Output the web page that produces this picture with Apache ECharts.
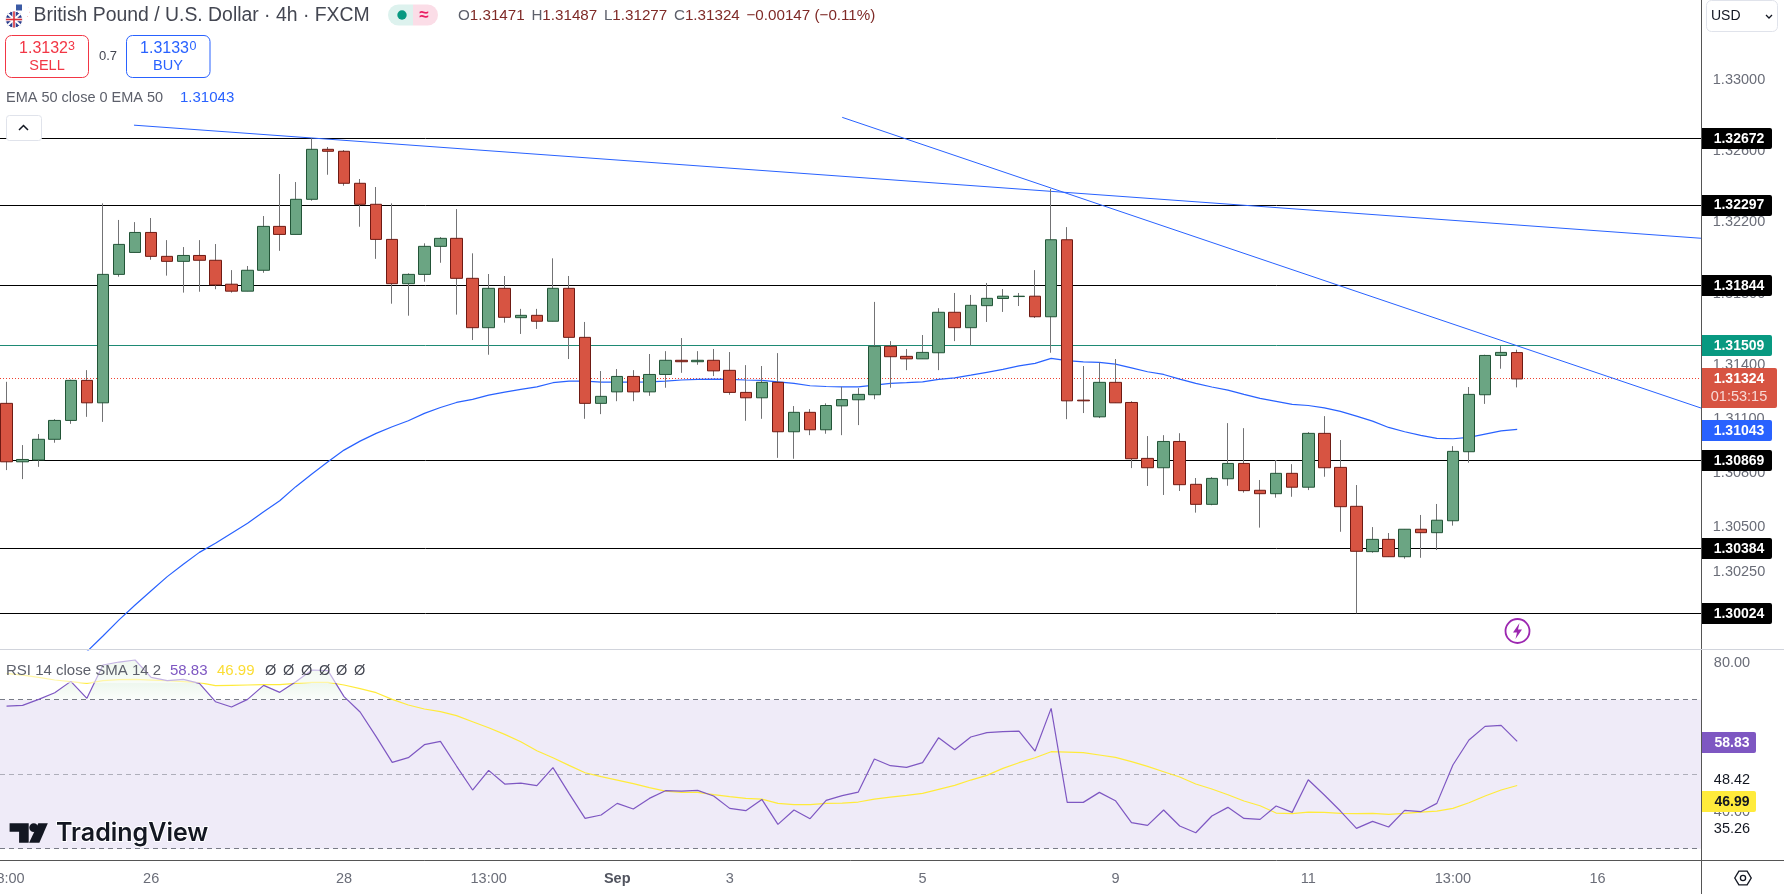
<!DOCTYPE html>
<html><head><meta charset="utf-8">
<style>html,body{margin:0;padding:0;background:#fff;overflow:hidden}#c{width:1784px;height:894px}</style>
<script src="https://cdn.jsdelivr.net/npm/echarts@6/dist/echarts.min.js"></script>
</head><body><div id="c"></div>
<script>
const candleOpen=[
1.31188,1.30863,1.30873,1.30988,1.31093,1.31316,1.31191,1.31908,1.32031,1.32143,
1.32009,1.31981,1.32014,1.31987,1.31853,1.31814,1.31931,1.32177,1.32132,1.32329,
1.32610,1.32599,1.32419,1.32301,1.32104,1.31856,1.31908,1.32065,1.32110,1.31886,
1.31610,1.31830,1.31666,1.31679,1.31646,1.31830,1.31556,1.31188,1.31252,1.31338,
1.31252,1.31349,1.31428,1.31420,1.31428,1.31372,1.31249,1.31219,1.31305,1.31030,
1.31138,1.31041,1.31174,1.31208,1.31236,1.31506,1.31450,1.31436,1.31470,1.31696,
1.31610,1.31733,1.31773,1.31784,1.31786,1.31671,1.32102,1.31206,1.31113,1.31305,
1.31193,1.30882,1.30830,1.30976,1.30738,1.30627,1.30769,1.30854,1.30705,1.30686,
1.30799,1.30722,1.31021,1.30832,1.30616,1.30365,1.30433,1.30337,1.30489,1.30470,
1.30536,1.30919,1.31236,1.31455,1.31471];
const candleClose=[
1.30863,1.30876,1.30988,1.31093,1.31316,1.31191,1.31908,1.32076,1.32143,1.32009,
1.31981,1.32014,1.31987,1.31849,1.31814,1.31931,1.32177,1.32132,1.32329,1.32610,
1.32599,1.32419,1.32301,1.32104,1.31856,1.31908,1.32065,1.32110,1.31886,1.31610,
1.31830,1.31668,1.31679,1.31646,1.31830,1.31556,1.31188,1.31227,1.31338,1.31252,
1.31349,1.31428,1.31420,1.31428,1.31369,1.31249,1.31219,1.31305,1.31030,1.31138,
1.31041,1.31176,1.31209,1.31238,1.31506,1.31448,1.31436,1.31472,1.31696,1.31610,
1.31735,1.31774,1.31786,1.31786,1.31671,1.32102,1.31202,1.31202,1.31305,1.31191,
1.30880,1.30830,1.30976,1.30736,1.30627,1.30771,1.30854,1.30703,1.30686,1.30799,
1.30722,1.31021,1.30830,1.30614,1.30367,1.30433,1.30337,1.30489,1.30470,1.30539,
1.30921,1.31238,1.31455,1.31472,1.31324];
const candleLow=[
1.30817,1.30767,1.30835,1.30969,1.31074,1.31113,1.31085,1.31895,1.32031,1.31990,
1.31901,1.31806,1.31811,1.31825,1.31806,1.31814,1.31917,1.32040,1.32132,1.32321,
1.32467,1.32405,1.32175,1.31995,1.31744,1.31677,1.31867,1.31973,1.31683,1.31541,
1.31459,1.31638,1.31575,1.31603,1.31646,1.31435,1.31102,1.31128,1.31200,1.31200,
1.31230,1.31275,1.31358,1.31403,1.31340,1.31236,1.31091,1.31102,1.30885,1.30880,
1.31011,1.31019,1.31011,1.31067,1.31211,1.31275,1.31373,1.31436,1.31373,1.31535,
1.31511,1.31642,1.31698,1.31731,1.31664,1.31470,1.31100,1.31134,1.31106,1.31191,
1.30828,1.30729,1.30679,1.30701,1.30581,1.30622,1.30730,1.30692,1.30498,1.30664,
1.30669,1.30706,1.30780,1.30475,1.30024,1.30359,1.30337,1.30326,1.30331,1.30374,
1.30509,1.30858,1.31185,1.31381,1.31277];
const candleHigh=[
1.31308,1.30956,1.31017,1.31100,1.31320,1.31373,1.32306,1.32213,1.32201,1.32224,
1.32100,1.32061,1.32100,1.32078,1.31932,1.31955,1.32235,1.32471,1.32426,1.32672,
1.32623,1.32606,1.32443,1.32398,1.32306,1.31914,1.32082,1.32117,1.32274,1.32026,
1.31910,1.31899,1.31715,1.31715,1.31998,1.31899,1.31642,1.31368,1.31379,1.31373,
1.31463,1.31479,1.31552,1.31479,1.31491,1.31474,1.31401,1.31396,1.31468,1.31173,
1.31156,1.31188,1.31280,1.31273,1.31754,1.31535,1.31491,1.31569,1.31719,1.31804,
1.31793,1.31860,1.31826,1.31804,1.31932,1.32387,1.32173,1.31396,1.31416,1.31435,
1.31200,1.31006,1.31011,1.31022,1.30773,1.30778,1.31078,1.31050,1.30762,1.30873,
1.30850,1.31028,1.31117,1.30984,1.30734,1.30501,1.30468,1.30489,1.30568,1.30629,
1.30950,1.31279,1.31459,1.31507,1.31487];
const ema50=[
null,null,null,null,null,1.29813,1.29899,1.29988,1.30070,1.30149,
1.30227,1.30295,1.30361,1.30411,1.30467,1.30522,1.30586,1.30647,1.30725,1.30795,
1.30863,1.30928,1.30978,1.31021,1.31058,1.31091,1.31132,1.31165,1.31193,1.31210,
1.31234,1.31251,1.31266,1.31280,1.31303,1.31312,1.31312,1.31306,1.31306,1.31306,
1.31308,1.31312,1.31318,1.31322,1.31323,1.31322,1.31318,1.31316,1.31308,1.31299,
1.31286,1.31282,1.31280,1.31280,1.31290,1.31299,1.31303,1.31308,1.31322,1.31330,
1.31345,1.31361,1.31377,1.31397,1.31411,1.31439,1.31426,1.31419,1.31416,1.31407,
1.31386,1.31364,1.31349,1.31323,1.31299,1.31279,1.31262,1.31238,1.31216,1.31199,
1.31182,1.31176,1.31163,1.31143,1.31117,1.31089,1.31054,1.31030,1.31010,1.30993,
1.30991,1.30999,1.31017,1.31035,1.31043];
const rsi14=[
68.33,68.51,70.12,71.91,74.95,70.39,79.34,80.14,80.68,76.03,
75.13,75.49,74.42,69.49,68.06,70.12,73.88,72.0,74.86,78.0,
77.82,70.84,66.72,60.10,53.21,54.46,57.95,58.85,52.22,45.78,
51.06,47.39,47.66,46.94,51.78,44.89,38.17,39.07,42.2,40.68,
43.54,45.6,45.51,45.69,44.17,40.86,40.23,43.27,36.56,40.41,
38.08,43.0,44.26,45.24,54.1,52.31,51.86,53.12,59.83,56.61,
60.01,61.17,61.44,61.62,56.25,67.7,42.47,42.47,45.15,42.92,
37.01,36.29,40.41,36.12,34.32,38.8,41.13,38.17,37.9,41.48,
39.78,48.55,44.44,40.14,35.49,37.37,35.85,40.32,39.96,42.2,
52.49,59.2,62.87,63.14,58.83];
const rsiSma=[
77.1,76.65,76.03,75.31,74.86,74.42,75.13,75.4,75.49,75.31,
75.13,74.86,74.6,73.79,73.88,73.97,74.06,74.06,74.42,74.68,
74.68,73.97,72.98,71.91,70.12,68.6,67.53,66.81,65.74,64.12,
62.51,60.72,58.76,56.34,54.46,52.4,50.43,49.36,48.46,47.48,
46.41,45.51,45.15,45.15,44.53,44.0,43.54,43.36,42.2,41.84,
41.84,42.2,42.29,42.56,43.36,43.9,44.35,44.89,45.96,47.03,
48.46,49.72,51.6,53.12,54.46,56.07,55.98,55.8,55.18,54.55,
53.39,52.13,50.7,49.27,47.39,46.05,44.53,42.83,41.57,39.6,
39.43,39.87,39.78,39.51,39.43,39.51,39.25,39.51,39.87,40.14,
40.86,42.38,44.17,45.78,46.99];
const xTickIndex=[0,9,21,30,38,45,57,69,81,90,99];
const xTickLabels=['18:00','26','28','13:00','Sep','3','5','9','11','13:00','16'];
const priceTicks=[1.33,1.326,1.322,1.318,1.314,1.311,1.308,1.305,1.3025];
const priceTickLabels=['1.33000','1.32600','1.32200','1.31800','1.31400','1.31100','1.30800','1.30500','1.30250'];
const rsiTicks=[80,40];
const rsiTickLabels=['80.00','40.00'];
const rsiMarks=[48.42,35.26];
const rsiMarkLabels=['48.42','35.26'];
const levelValues=[1.32672,1.32297,1.31844,1.30869,1.30384,1.30024];
const levelLabels=['1.32672','1.32297','1.31844','1.30869','1.30384','1.30024'];
const resistance=1.31509, lastPrice=1.31324, emaLast=1.31043;
const trendA=[[7.93,1.32746],[105.5,1.32110]];
const trendB=[[52,1.32790],[105.5,1.31160]];
const rsiBands=[70,50,30];

const F='"Liberation Sans"', TICK='14.5px '+F, TAGF='bold 14px '+F;
const AX=[-0.5,105.5];
const cats=new Array(106).fill('');
xTickIndex.forEach((i,k)=>cats[i]=xTickLabels[k]);
const bodies=candleOpen.map((o,i)=>[o,candleClose[i],Math.min(o,candleClose[i]),Math.max(o,candleClose[i])]);
const wicks=candleOpen.map((o,i)=>[o,candleClose[i],candleLow[i],candleHigh[i]]);
const rsiOver=rsi14.map(v=>Math.max(v,70));

function ticksSeries(values,labels,color,xi,yi,z,dx){
  return {type:'custom',xAxisIndex:xi,yAxisIndex:yi,z,silent:true,data:values.map(v=>[AX[1],v]),
    encode:{x:0,y:1},
    renderItem(p,api){const c=api.coord([api.value(0),api.value(1)]);
      return {type:'text',style:{x:c[0]+dx,y:c[1],text:labels[p.dataIndex],fill:color,font:TICK,align:'center',verticalAlign:'middle'}};}};
}
function levelSeries(values,color,dash,xi,yi,z){
  return {type:'custom',xAxisIndex:xi,yAxisIndex:yi,z,silent:true,data:values.map(v=>[v]),encode:{y:0},
    renderItem(p,api){const v=api.value(0),a=api.coord([AX[0],v]),b=api.coord([AX[1],v]);
      const y=Math.floor(a[1])+0.5;
      return {type:'line',shape:{x1:0,y1:y,x2:b[0],y2:y},style:{stroke:color,lineWidth:1,lineDash:dash||null}};}};
}
function tagSeries(values,labels,bg,fg,xi,yi,w,offset,dx){
  return {type:'custom',xAxisIndex:xi,yAxisIndex:yi,z:20,silent:true,data:values.map(v=>[AX[1],v]),encode:{x:0,y:1},
    renderItem(p,api){const c=api.coord([api.value(0),api.value(1)]);const y=c[1]+(offset||0);
      return {type:'group',children:[
        {type:'rect',shape:{x:c[0],y:Math.round(y-10.5),width:w,height:21,r:[0,2,2,0]},style:{fill:bg}},
        {type:'text',style:{x:c[0]+dx,y:y+0.5,text:labels[p.dataIndex],fill:fg,font:TAGF,align:'center',verticalAlign:'middle'}}]};}};
}
const series=[
  levelSeries(levelValues,'#000',null,1,0,1),
  levelSeries([resistance],'#1E8A74',null,1,0,1),
  levelSeries([lastPrice],'#F0402F',[1,2],1,0,1),
  {type:'line',name:'trend A',xAxisIndex:1,yAxisIndex:0,z:1,data:trendA,showSymbol:false,silent:true,lineStyle:{color:'#2962FF',width:1}},
  {type:'line',name:'trend B',xAxisIndex:1,yAxisIndex:0,z:1,data:trendB,showSymbol:false,silent:true,lineStyle:{color:'#2962FF',width:1}},
  {type:'line',name:'EMA 50',xAxisIndex:0,yAxisIndex:0,z:1,data:ema50,showSymbol:false,silent:true,lineStyle:{color:'#2962FF',width:1.2}},
  {type:'candlestick',name:'wicks',xAxisIndex:0,yAxisIndex:0,z:2,data:wicks,barWidth:0,silent:true,
    itemStyle:{color:'#737375',color0:'#737375',borderColor:'#737375',borderColor0:'#737375',borderColorDoji:'#737375',borderWidth:1}},
  {type:'candlestick',name:'GBPUSD',xAxisIndex:0,yAxisIndex:0,z:3,data:bodies,barWidth:12,silent:true,
    itemStyle:{color:'#6BA583',color0:'#D75442',borderColor:'#225437',borderColor0:'#6F1A13',borderColorDoji:'#225437',borderWidth:1}},
  ticksSeries(priceTicks,priceTickLabels,'#6A6D78',1,0,10,37),
  tagSeries(levelValues,levelLabels,'#000','#fff',1,0,70,0,37),
  tagSeries([resistance],['1.31509'],'#089981','#fff',1,0,70,0,37),
  tagSeries([emaLast],['1.31043'],'#2962FF','#fff',1,0,70,1.5,37),
  {type:'custom',xAxisIndex:1,yAxisIndex:0,z:21,silent:true,data:[[AX[1],lastPrice]],encode:{x:0,y:1},
    renderItem(p,api){const c=api.coord([api.value(0),api.value(1)]);
      return {type:'group',children:[
        {type:'rect',shape:{x:c[0],y:c[1]-11,width:75,height:40,r:[0,2,2,0]},style:{fill:'#D75442'}},
        {type:'text',style:{x:c[0]+37,y:c[1]+0.5,text:lastPrice.toFixed(5),fill:'#fff',font:TAGF,align:'center',verticalAlign:'middle'}},
        {type:'text',style:{x:c[0]+37,y:c[1]+18.5,text:'01:53:15',fill:'#F7D9D5',font:TICK,align:'center',verticalAlign:'middle'}}]};}},
  {type:'custom',xAxisIndex:3,yAxisIndex:1,z:1,silent:true,data:[[rsiBands[0],rsiBands[2]]],encode:{y:[0,1]},
    renderItem(p,api){const a=api.coord([AX[0],api.value(0)]),b=api.coord([AX[1],api.value(1)]);
      return {type:'rect',shape:{x:0,y:a[1],width:b[0],height:b[1]-a[1]},style:{fill:'rgba(126,87,194,0.12)'}};}},
  levelSeries([rsiBands[0],rsiBands[2]],'#787B86',[5,4],3,1,2),
  levelSeries([rsiBands[1]],'rgba(120,123,134,0.55)',[5,4],3,1,2),
  {type:'line',name:'RSI over',xAxisIndex:2,yAxisIndex:1,z:2,data:rsiOver,showSymbol:false,silent:true,lineStyle:{width:0},
    areaStyle:{origin:70,color:{type:'linear',x:0,y:0,x2:0,y2:1,colorStops:[{offset:0,color:'rgba(76,175,80,0.28)'},{offset:1,color:'rgba(76,175,80,0.03)'}]}}},
  {type:'line',name:'RSI SMA',xAxisIndex:2,yAxisIndex:1,z:3,data:rsiSma,showSymbol:false,silent:true,lineStyle:{color:'#FFEB3B',width:1.2}},
  {type:'line',name:'RSI',xAxisIndex:2,yAxisIndex:1,z:4,data:rsi14,showSymbol:false,silent:true,lineStyle:{color:'#7E57C2',width:1.2}},
  ticksSeries(rsiTicks,rsiTickLabels,'#6A6D78',3,1,10,30),
  ticksSeries(rsiMarks,rsiMarkLabels,'#131722',3,1,10,30),
  tagSeries([58.83],['58.83'],'#7E57C2','#fff',3,1,54,1,30),
  tagSeries([46.99],['46.99'],'#FFEB3B','#131722',3,1,54,16,30)
];
const T=(x,y,text,fill,font,align)=>({type:'text',silent:true,z:50,style:{x,y,text,fill,font,align:align||'left',verticalAlign:'middle'}});
const R=(x,y,w,h,r,fill,stroke)=>({type:'rect',silent:true,z:50,shape:{x,y,width:w,height:h,r},style:{fill:fill||'#fff',stroke:stroke||null,lineWidth:1}});
const L=(x1,y1,x2,y2,c,w)=>({type:'line',silent:true,z:49,shape:{x1,y1,x2,y2},style:{stroke:c,lineWidth:w||1}});
const PL=(pts,c,w)=>({type:'polyline',silent:true,z:51,shape:{points:pts},style:{stroke:c,lineWidth:w||1,fill:null}});
const PG=(pts,c)=>({type:'polygon',silent:true,z:51,shape:{points:pts},style:{fill:c}});
const C=(cx,cy,r,fill,stroke,w)=>({type:'circle',silent:true,z:51,shape:{cx,cy,r},style:{fill:fill||null,stroke:stroke||null,lineWidth:w||1}});
const LEG='#5D606B';
const graphic=[
  {type:'rect',silent:true,z:40,shape:{x:0,y:655,width:366,height:28},style:{fill:'rgba(255,255,255,0.55)'}},
  L(1701.5,0,1701.5,894,'#555'),
  L(0,649.5,1784,649.5,'#D1D4DC'),
  L(1702,860.5,1784,860.5,'#555'),
  C(22.5,11,7.5,'#fff'),
  L(17,8,29,8,'#D9303A',1.6),L(16,12,30,12,'#D9303A',1.6),L(17,16,28,16,'#D9303A',1.6),
  {type:'rect',silent:true,z:52,shape:{x:16,y:4.5,width:6,height:6},style:{fill:'#3B5BA5'}},
  C(14,19.5,8.5,'#2D3F8E','#fff',1),
  {type:'line',silent:true,z:52,shape:{x1:8,y1:14,x2:20,y2:25},style:{stroke:'#fff',lineWidth:2}},
  {type:'line',silent:true,z:52,shape:{x1:20,y1:14,x2:8,y2:25},style:{stroke:'#fff',lineWidth:2}},
  {type:'line',silent:true,z:52,shape:{x1:6,y1:19.5,x2:22,y2:19.5},style:{stroke:'#fff',lineWidth:3.4}},
  {type:'line',silent:true,z:52,shape:{x1:14,y1:11.5,x2:14,y2:27.5},style:{stroke:'#fff',lineWidth:3.4}},
  {type:'line',silent:true,z:53,shape:{x1:6,y1:19.5,x2:22,y2:19.5},style:{stroke:'#D9303A',lineWidth:1.6}},
  {type:'line',silent:true,z:53,shape:{x1:14,y1:11.5,x2:14,y2:27.5},style:{stroke:'#D9303A',lineWidth:1.6}},
  T(33.5,16,'British Pound / U.S. Dollar · 4h · FXCM','#434651','19.4px '+F),
  R(388,4.5,25,21,[10.5,0,0,10.5],'#DDF2EE'),
  R(413,4.5,25,21,[0,10.5,10.5,0],'#FBDDE7'),
  C(402,15,4.7,'#089981'),
  T(424,15,'≈','#E91E63','bold 17px '+F,'center'),
  {type:'text',silent:true,z:50,style:{x:458,y:16,verticalAlign:'middle',
    text:'{l|O}{v|1.31471}  {l|H}{v|1.31487}  {l|L}{v|1.31277}  {l|C}{v|1.31324}  {v|−0.00147 (−0.11%)}',
    rich:{l:{fill:'#5D606B',font:'15.2px '+F},v:{fill:'#7F2A27',font:'15.2px '+F}}}},
  R(5.5,35.5,83,42,6,'#fff','#F23645'),
  T(43.5,48.5,'1.3132','#F23645','16px '+F,'center'),
  T(71.5,46.5,'3','#F23645','12.5px '+F,'center'),
  T(47,66,'SELL','#F23645','14.5px '+F,'center'),
  T(108,56,'0.7','#434651','13px '+F,'center'),
  R(126.5,35.5,83.5,42,6,'#fff','#2962FF'),
  T(164.5,48.5,'1.3133','#2962FF','16px '+F,'center'),
  T(193,46.5,'0','#2962FF','12.5px '+F,'center'),
  T(168,66,'BUY','#2962FF','14.5px '+F,'center'),
  T(6,98,'EMA 50 close 0 EMA 50',LEG,'14.5px '+F),
  T(180,98,'1.31043','#2962FF','15px '+F),
  R(6.5,115.5,35,25,3,'#fff','#E0E3EB'),
  PL([[19,130],[23.5,125.5],[28,130]],'#131722',1.5),
  R(1706.5,0.5,71,31,5,'#fff','#E0E3EB'),
  T(1711,16.5,'USD','#131722','14px '+F),
  PL([[1766,15],[1769,18],[1772,15]],'#131722',1.3),
  C(1517.5,631,12,'#fff','#9C27B0',1.8),
  PG([[1519.5,623],[1513,632.5],[1517,632.5],[1515.5,639],[1522,629.5],[1518,629.5]],'#9C27B0'),
  T(6,671,'RSI 14 close SMA 14 2',LEG,'15px '+F),
  T(170,671,'58.83','#7E57C2','15px '+F),
  T(217,671,'46.99','#FBDD34','15px '+F),
  T(265,671,'Ø','#434651','14.5px '+F),T(283,671,'Ø','#434651','14.5px '+F),T(301,671,'Ø','#434651','14.5px '+F),
  T(319,671,'Ø','#434651','14.5px '+F),T(336,671,'Ø','#434651','14.5px '+F),T(354,671,'Ø','#434651','14.5px '+F),
  PG([[9.6,823.3],[28.7,823.3],[28.7,842.7],[19.1,842.7],[19.1,831.7],[9.6,831.7]],'#131722'),
  C(33.7,827.6,4.4,'#131722'),
  PG([[38.3,823.3],[47.8,823.3],[39.4,842.7],[29.1,842.7]],'#131722'),
  {type:'text',silent:true,z:50,style:{x:56,y:833,text:'TradingView',fill:'#131722',font:'600 25px Inter',verticalAlign:'middle',stroke:'#fff',lineWidth:2}},
  PG([[1734,878],[1738.5,870.5],[1747.5,870.5],[1752,878],[1747.5,885.5],[1738.5,885.5]],'#131722'),
  PG([[1735.5,878],[1739.3,871.8],[1746.7,871.8],[1750.5,878],[1746.7,884.2],[1739.3,884.2]],'#fff'),
  C(1743,878,2.6,'#fff','#131722',1.3)
];
const hiddenX=(i)=>({type:'value',gridIndex:i,min:AX[0],max:AX[1],show:false});
const chart=echarts.init(document.getElementById('c'),null,{renderer:'canvas'});
chart.setOption({
  animation:false,backgroundColor:'#fff',
  grid:[{left:-1.5,width:1703.5,top:0,height:650,outerBoundsMode:'none'},{left:-1.5,width:1703.5,top:650,height:210,outerBoundsMode:'none'}],
  xAxis:[
    {type:'category',gridIndex:0,data:cats,show:false},
    hiddenX(0),
    {type:'category',gridIndex:1,data:cats,axisTick:{show:false},axisLine:{lineStyle:{color:'#555',width:1}},
      axisLabel:{interval:0,margin:11,color:'#6A6D78',fontFamily:F,fontSize:14.5,
        formatter:v=>v==='Sep'?'{b|Sep}':v,rich:{b:{fontFamily:F,fontSize:14.5,fontWeight:'bold',color:'#50535E'}}}},
    hiddenX(1)
  ],
  yAxis:[
    {type:'log',gridIndex:0,min:1.29822,max:1.33453,show:false,splitLine:{show:false}},
    {type:'value',gridIndex:1,min:27,max:83.37,show:false,splitLine:{show:false}}
  ],
  graphic:{elements:graphic},
  series
});
</script></body></html>
